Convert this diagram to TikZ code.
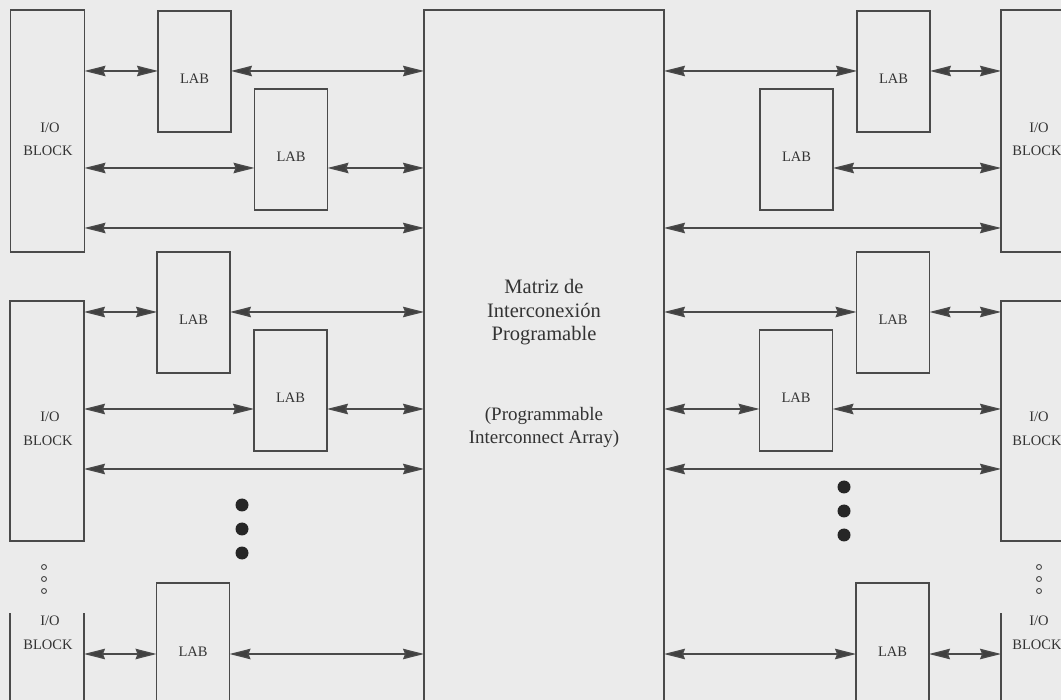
\documentclass[tikz,border=0pt]{standalone}
\usepackage{fontspec}
\setmainfont{Liberation Serif}
\usetikzlibrary{arrows.meta}
\definecolor{bg}{HTML}{EBEBEB}
\definecolor{ln}{HTML}{4A4A4A}
\definecolor{tx}{HTML}{333333}
\begin{document}
\begin{tikzpicture}[x=1pt,y=-1pt,
  box/.style={draw=ln, line width=1.3pt, rectangle, inner sep=0pt, outer sep=0pt},
  labbox/.style={box, minimum width=73pt, minimum height=121pt},
  iobox/.style={box, minimum width=74pt, minimum height=241pt},
  ghost/.style={rectangle, inner sep=0pt, outer sep=0pt, minimum width=74pt, minimum height=94pt},
  conn/.style={draw=ln, line width=1.3pt,
    {Stealth[length=21pt,width=10.5pt,inset=2pt,fill=black!75]}-{Stealth[length=21pt,width=10.5pt,inset=2pt,fill=black!75]}},
  side/.style={draw=ln, line width=1.3pt},
  txt/.style={text=tx, anchor=base, inner sep=0pt, font=\fontsize{14.5}{14.5}\selectfont},
  bigtxt/.style={text=tx, anchor=base, inner sep=0pt, font=\fontsize{20.5}{20.5}\selectfont},
  midtxt/.style={text=tx, anchor=base, inner sep=0pt, font=\fontsize{19}{19}\selectfont},
  bigdot/.style={circle, fill=black!85, inner sep=0pt, minimum size=13pt},
  smalldot/.style={circle, draw=ln, line width=0.9pt, inner sep=0pt, minimum size=5pt}]
\useasboundingbox (0,0) rectangle (1061,700);
\fill[bg] (0,0) rectangle (1061,700);
\clip (0,0) rectangle (1061,700);

% row coordinates
\coordinate (r71) at (0,71);
\coordinate (r168) at (0,168);
\coordinate (r228) at (0,228);
\coordinate (r312) at (0,312);
\coordinate (r409) at (0,409);
\coordinate (r469) at (0,469);
\coordinate (r654) at (0,654);

% central matrix
\node[box, minimum width=240pt, minimum height=700pt] (pia) at (544,360) {};
\node[bigtxt] (t1) at (544,294) {Matriz de};
\node[bigtxt] (t2) at (544,318) {Interconexión};
\node[bigtxt] (t3) at (544,341) {Programable};
\node[midtxt] (t4) at (544,421) {(Programmable};
\node[midtxt] (t5) at (544,444) {Interconnect Array)};

% left I/O blocks
\node[iobox, minimum height=242pt] (io1) at (47.5,131) {};
\node[iobox, minimum height=240pt] (io2) at (47,421) {};
\node[ghost] (io3) at (47,660) {};
\draw[side] (io3.north west) -- (io3.south west);
\draw[side] (io3.north east) -- (io3.south east);

\node[txt] (io1a) at (50,133) {I/O};
\node[txt] (io1b) at (48,156) {BLOCK};
\node[txt] (io2a) at (50,422) {I/O};
\node[txt] (io2b) at (48,446) {BLOCK};
\node[txt] (io3a) at (50,625) {I/O};
\node[txt] (io3b) at (48,649) {BLOCK};

% right I/O blocks
\node[iobox, minimum height=242pt] (ior1) at (1038,131) {};
\node[iobox, minimum height=240pt] (ior2) at (1038,421) {};
\node[ghost] (ior3) at (1038,660) {};
\draw[side] (ior3.north west) -- (ior3.south west);

\node[txt] (ior1a) at (1039,133) {I/O};
\node[txt] (ior1b) at (1037,156) {BLOCK};
\node[txt] (ior2a) at (1039,422) {I/O};
\node[txt] (ior2b) at (1037,446) {BLOCK};
\node[txt] (ior3a) at (1039,625) {I/O};
\node[txt] (ior3b) at (1037,649) {BLOCK};

% left LABs
\node[labbox] (lab1) at (194.5,71.5) {};
\node[labbox] (lab2) at (291,149.5) {};
\node[labbox] (lab3) at (193.5,312.5) {};
\node[labbox] (lab4) at (290.5,390.5) {};
\node[labbox] (lab5) at (193,643.5) {};
% right LABs
\node[labbox] (labr1) at (893.5,71.5) {};
\node[labbox] (labr2) at (796.5,149.5) {};
\node[labbox] (labr3) at (893,312.5) {};
\node[labbox] (labr4) at (796,390.5) {};
\node[labbox] (labr5) at (892.5,643.5) {};

\foreach \n in {lab1,lab2,lab3,lab4,lab5,labr1,labr2,labr3,labr4,labr5}
  \node[txt] (\n-t) at ([yshift=-12.5pt]\n.center) {LAB};

% dots
\node[bigdot] (dl1) at (242,505) {};
\node[bigdot] (dl2) at (242,529) {};
\node[bigdot] (dl3) at (242,553) {};
\node[bigdot] (dr1) at (844,487) {};
\node[bigdot] (dr2) at (844,511) {};
\node[bigdot] (dr3) at (844,535) {};
\node[smalldot] (sl1) at (44,567) {};
\node[smalldot] (sl2) at (44,579) {};
\node[smalldot] (sl3) at (44,591) {};
\node[smalldot] (sr1) at (1039,567) {};
\node[smalldot] (sr2) at (1039,579) {};
\node[smalldot] (sr3) at (1039,591) {};

% left connections
\draw[conn] (io1.east |- r71) -- (lab1.west |- r71);
\draw[conn] (lab1.east |- r71) -- (pia.west |- r71);
\draw[conn] (io1.east |- r168) -- (lab2.west |- r168);
\draw[conn] (lab2.east |- r168) -- (pia.west |- r168);
\draw[conn] (io1.east |- r228) -- (pia.west |- r228);
\draw[conn] (io2.east |- r312) -- (lab3.west |- r312);
\draw[conn] (lab3.east |- r312) -- (pia.west |- r312);
\draw[conn] (io2.east |- r409) -- (lab4.west |- r409);
\draw[conn] (lab4.east |- r409) -- (pia.west |- r409);
\draw[conn] (io2.east |- r469) -- (pia.west |- r469);
\draw[conn] (io3.east |- r654) -- (lab5.west |- r654);
\draw[conn] (lab5.east |- r654) -- (pia.west |- r654);

% right connections
\draw[conn] (pia.east |- r71) -- (labr1.west |- r71);
\draw[conn] (labr1.east |- r71) -- (ior1.west |- r71);
\draw[conn] (labr2.east |- r168) -- (ior1.west |- r168);
\draw[conn] (pia.east |- r228) -- (ior1.west |- r228);
\draw[conn] (pia.east |- r312) -- (labr3.west |- r312);
\draw[conn] (labr3.east |- r312) -- (ior2.west |- r312);
\draw[conn] (pia.east |- r409) -- (labr4.west |- r409);
\draw[conn] (labr4.east |- r409) -- (ior2.west |- r409);
\draw[conn] (pia.east |- r469) -- (ior2.west |- r469);
\draw[conn] (pia.east |- r654) -- (labr5.west |- r654);
\draw[conn] (labr5.east |- r654) -- (ior3.west |- r654);
\end{tikzpicture}
\end{document}
